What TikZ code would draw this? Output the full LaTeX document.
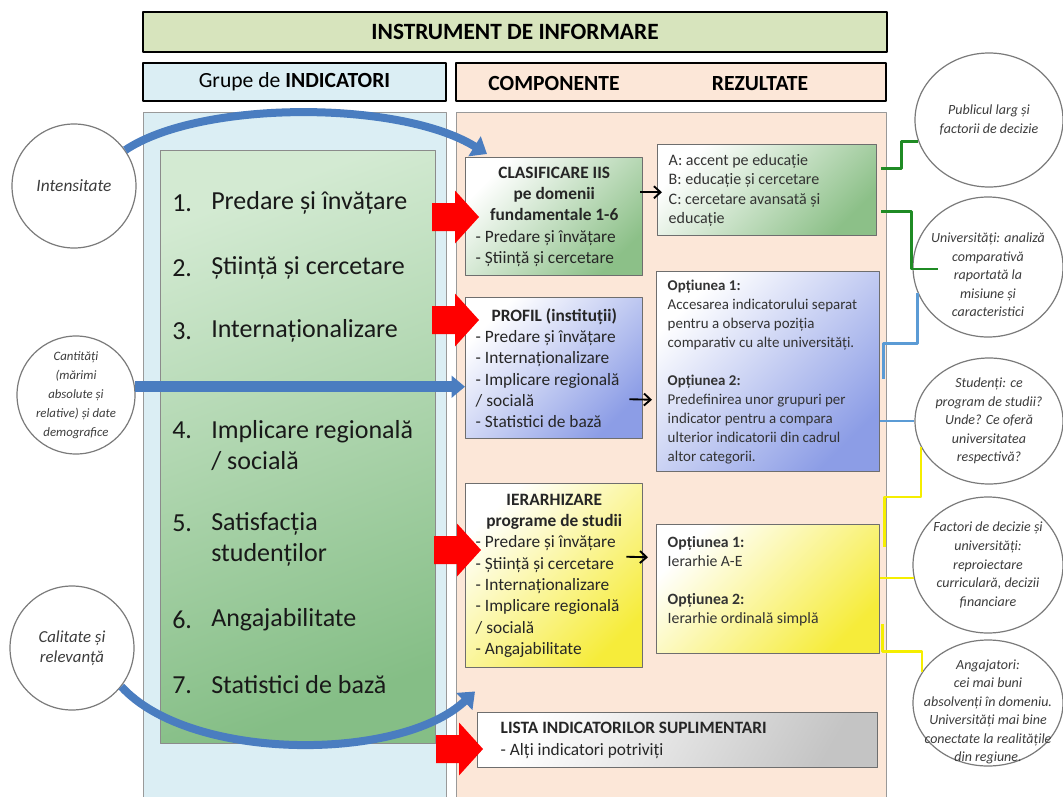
\documentclass[tikz,border=0pt]{standalone}
\usepackage{fontspec}
\setmainfont{Carlito}
\usetikzlibrary{arrows.meta,shapes.geometric,calc}

\definecolor{titlefill}{HTML}{D7E4BD}
\definecolor{leftfill}{HTML}{DBEEF4}
\definecolor{rightfill}{HTML}{FCE7D8}
\definecolor{indtop}{HTML}{D3EAD2}
\definecolor{indbot}{HTML}{85BE86}
\definecolor{greenend}{HTML}{8CC088}
\definecolor{blueend}{HTML}{8C9DE6}
\definecolor{yellowend}{HTML}{F6EC3A}
\definecolor{grayend}{HTML}{C4C4C4}
\definecolor{boxline}{HTML}{6E6E6E}
\definecolor{circline}{HTML}{7A7A7A}
\definecolor{txtgray}{HTML}{3C3C3C}
\definecolor{arrblue}{HTML}{4A7DC0}
\definecolor{redfill}{HTML}{FF0000}
\definecolor{greenline}{HTML}{1F8B24}
\definecolor{blueline}{HTML}{5B9BD5}
\definecolor{yellowline}{HTML}{F5EE00}

\newcommand{\pxl}{0.75pt}
\newcommand{\ctitle}[1]{\makebox[\linewidth]{\bfseries #1}}

\begin{document}
\begin{tikzpicture}[x=0.75pt, y=-0.75pt, line join=round,
    hdr/.style={draw=black, line width=2.2pt, inner sep=0pt},
    colbg/.style={draw=boxline!70, line width=0.8pt, anchor=north west, inner sep=0pt},
    itemnum/.style={anchor=west, inner sep=0pt, text=black!90, font=\fontsize{19.5}{23.25}\selectfont},
    itemtxt/.style={anchor=west, inner sep=0pt, align=flush left, text=black!90, font=\fontsize{19.5}{23.25}\selectfont},
    compbox/.style={draw=boxline, line width=1.1pt, anchor=north west, inner xsep=10*\pxl, inner ysep=0pt,
      text width=157*\pxl, minimum width=177*\pxl, align=flush left, text=black!85, font=\fontsize{13}{16}\selectfont},
    resbox/.style={draw=boxline, line width=1.1pt, anchor=north west, inner xsep=11*\pxl, inner ysep=0pt,
      align=flush left, text=black!80},
    circ/.style={circle, draw=circline, line width=0.9pt, fill=white, inner sep=0pt},
    audience/.style={ellipse, draw=circline, line width=0.9pt, fill=white, inner sep=0pt},
    audtxt/.style={align=flush center, inner sep=0pt, text=txtgray, font=\fontsize{10.5}{13.9}\selectfont\itshape},
    bluearr/.style={draw=arrblue, line width=6pt, -{Triangle[length=11pt,width=17pt]}},
    blackarr/.style={draw=black, line width=1.4pt, -{Straight Barb[length=5pt,width=9pt]}},
    greenln/.style={draw=greenline, line width=1.9pt},
    blueln/.style={draw=blueline, line width=1.9pt},
    yellowln/.style={draw=yellowline, line width=1.9pt},
    redarr/.pic={\fill[redfill] (0,-14) -- (23,-14) -- (23,-26.5) -- (47,0) -- (23,26.5) -- (23,14) -- (0,14) -- cycle;}]

  \useasboundingbox (0,0) rectangle (1063,796);
  \fill[white] (0,0) rectangle (1063,796);

  % headers
  \node[hdr, fill=titlefill, minimum width=744*\pxl, minimum height=40*\pxl,
    font=\fontsize{17.5}{20}\selectfont\bfseries] (title) at (515,32) {INSTRUMENT DE INFORMARE};
  \node[hdr, fill=leftfill, minimum width=303*\pxl, minimum height=38*\pxl,
    font=\fontsize{16.2}{19}\selectfont] (grphdr) at (294.5,82) {Grupe de \textbf{INDICATORI}};
  \node[hdr, fill=rightfill, minimum width=430*\pxl, minimum height=38*\pxl] (comphdr) at (671,82) {};
  \node[font=\fontsize{16.2}{19}\selectfont\bfseries, inner sep=0pt, anchor=base] (comp) at (554,90) {COMPONENTE};
  \node[font=\fontsize{16.2}{19}\selectfont\bfseries, inner sep=0pt, anchor=base] (rez) at (760,90) {REZULTATE};

  % columns
  \node[colbg, fill=leftfill, minimum width=303*\pxl, minimum height=700*\pxl] (leftcol) at (143,112) {};
  \node[colbg, fill=rightfill, minimum width=430*\pxl, minimum height=700*\pxl] (rightcol) at (456,112) {};

  % indicator groups
  \node[draw=boxline!80, line width=0.8pt, anchor=north west, inner sep=0pt,
    top color=indtop, bottom color=indbot, shading angle=20,
    minimum width=275*\pxl, minimum height=593*\pxl] (indbox) at (160,150) {};
  \node[itemnum] (n1) at (172,203) {1.};
  \node[itemtxt] (t1) at (211,203) {Predare și învățare};
  \node[itemnum] (n2) at (172,268) {2.};
  \node[itemtxt] (t2) at (211,268) {Știință și cercetare};
  \node[itemnum] (n3) at (172,331) {3.};
  \node[itemtxt] (t3) at (211,331) {Internaționalizare};
  \node[itemnum] (n4) at (172,430) {4.};
  \node[itemtxt] (t4) at (211,445.5) {Implicare regională\\/ socială};
  \node[itemnum] (n5) at (172,523) {5.};
  \node[itemtxt] (t5) at (211,539.5) {Satisfacția\\studenților};
  \node[itemnum] (n6) at (172,620) {6.};
  \node[itemtxt] (t6) at (211,620) {Angajabilitate};
  \node[itemnum] (n7) at (172,685) {7.};
  \node[itemtxt] (t7) at (211,685) {Statistici de bază};

  % components
  \node[compbox, top color=white, bottom color=greenend, shading angle=45,
    minimum height=118*\pxl] (compA) at (465,157)
    {\ctitle{CLASIFICARE IIS}\\ \ctitle{pe domenii}\\ \ctitle{fundamentale 1-6}\\
     - Predare și învățare\\ - Știință și cercetare};
  \node[compbox, top color=white, bottom color=blueend, shading angle=45,
    minimum height=141*\pxl] (compB) at (465,297)
    {\ctitle{PROFIL (instituții)}\\ - Predare și învățare\\ - Internaționalizare\\
     - Implicare regională\\ / socială\\ - Statistici de bază};
  \node[compbox, top color=white, bottom color=yellowend, shading angle=45,
    minimum height=184*\pxl] (compC) at (465,483)
    {\ctitle{IERARHIZARE}\\ \ctitle{programe de studii}\\ - Predare și învățare\\
     - Știință și cercetare\\ - Internaționalizare\\ - Implicare regională\\
     / socială\\ - Angajabilitate};
  \node[compbox, top color=white, bottom color=grayend, shading angle=60, inner xsep=23*\pxl,
    text width=354*\pxl, minimum width=400*\pxl, minimum height=55*\pxl] (lista) at (477,712)
    {\textbf{LISTA INDICATORILOR SUPLIMENTARI}\\ - Alți indicatori potriviți};

  % results
  \node[resbox, top color=white, bottom color=greenend, shading angle=45,
    text width=197*\pxl, minimum width=219*\pxl, minimum height=91*\pxl,
    font=\fontsize{12}{14.6}\selectfont] (resA) at (657,144)
    {A: accent pe educație\\ B: educație și cercetare\\ C: cercetare avansată și\\ educație};
  \node[resbox, top color=white, bottom color=blueend, shading angle=45,
    text width=201*\pxl, minimum width=223*\pxl, minimum height=200*\pxl,
    font=\fontsize{11.2}{14.25}\selectfont] (resB) at (656,271)
    {\textbf{Opțiunea 1:}\\ Accesarea indicatorului separat\\ pentru a observa poziția\\
     comparativ cu alte universități.\\[14.25pt] \textbf{Opțiunea 2:}\\
     Predefinirea unor grupuri per\\ indicator pentru a compara\\
     ulterior indicatorii din cadrul\\ altor categorii.};
  \node[resbox, top color=white, bottom color=yellowend, shading angle=45,
    text width=201*\pxl, minimum width=223*\pxl, minimum height=129*\pxl,
    font=\fontsize{11.8}{14.25}\selectfont] (resC) at (656,524)
    {\textbf{Opțiunea 1:}\\ Ierarhie A-E\\[14.25pt] \textbf{Opțiunea 2:}\\
     Ierarhie ordinală simplă\\ \mbox{}};

  \draw[blackarr] ($(compA.east |- resA.west)+(-3,2)$) -- ($(resA.west)+(5,2)$);
  \draw[blackarr] ($(compB.east)+(-14,31)$) -- ($(resB.west)+(-4,28)$);
  \draw[blackarr] ($(compC.east)+(-17,-19)$) -- ($(resC.west)+(-8,-32)$);

  % red arrows
  \pic (redA) at (432,217) {redarr};
  \pic (redB) at (432,320) {redarr};
  \pic (redC) at (434,550) {redarr};
  \pic (redD) at (436,749) {redarr};

  % sources
  \node[circ, minimum size=124*\pxl] (intens) at (74,186) {};
  \node[audtxt, font=\fontsize{13}{16}\selectfont\itshape] (intenstxt) at (intens) {Intensitate};
  \node[circ, minimum size=118*\pxl] (cantit) at (76,395) {};
  \node[audtxt, font=\fontsize{9.6}{14.25}\selectfont\itshape] (cantittxt) at (cantit)
    {Cantități\\(mărimi\\absolute și\\relative) și date\\demografice};
  \node[circ, minimum size=124*\pxl] (calit) at (72,648) {};
  \node[audtxt, font=\fontsize{12.6}{15}\selectfont\itshape] (calittxt) at (calit)
    {Calitate și\\relevanță};

  \draw[bluearr] (intens.35) .. controls (200,100) and (400,100) .. ($(compA.north west)+(22,-3)$);
  \draw[bluearr, line width=8pt, -{Triangle[length=10pt,width=16pt]}] (cantit.8) -- (cantit.8 -| compB.west);
  \draw[bluearr] (calit.-38) .. controls (190,762) and (400,762) .. ($(compC.south west)+(10,23)$);

  % audiences
  \node[audience, minimum width=148*\pxl, minimum height=134*\pxl] (pub) at (989,120) {};
  \node[audtxt] (pubtxt) at (pub) {Publicul larg și\\factorii de decizie};
  \node[audience, minimum width=150*\pxl, minimum height=140*\pxl] (univ) at (988,267) {};
  \node[audtxt] (univtxt) at ($(univ)+(0,8)$)
    {Universități: analiză\\comparativă\\raportată la\\misiune și\\caracteristici};
  \node[audience, minimum width=148*\pxl, minimum height=126*\pxl] (stud) at (989,421) {};
  \node[audtxt] (studtxt) at (stud)
    {Studenți: ce\\program de studii?\\Unde? Ce oferă\\universitatea\\respectivă?};
  \node[audience, minimum width=150*\pxl, minimum height=136*\pxl] (fact) at (988,565) {};
  \node[audtxt] (facttxt) at (fact)
    {Factori de decizie și\\universități:\\reproiectare\\curriculară, decizii\\financiare};
  \node[audience, minimum width=150*\pxl, minimum height=126*\pxl] (ang) at (988,703) {};
  \node[audtxt] (angtxt) at ($(ang)+(0,9)$)
    {Angajatori:\\cei mai buni\\absolvenți în domeniu.\\Universități mai bine\\conectate la realitățile\\din regiune.};

  % links to audiences
  \draw[greenln] (resA.east) ++(4,-22) -- ++(20,0) |- (pub.197);
  \draw[greenln] (resA.east) ++(4,21) -- ++(30,0) |- ($(univ.center)+(-50,2)$);
  \draw[blueln] (resB.east) ++(3,7) -- ++(0,-35) -| (univ.200);
  \draw[blueln] (resB.east |- stud.west) -- (stud.west);
  \draw[yellowln] (stud.201) -- ++(0,50) -| ($(resC.north east)+(4,23)$);
  \draw[yellowln] (resC.east |- fact.190) -- (fact.190);
  \draw[yellowln] (resC.east) ++(2,35) -- ++(0,27) -| (ang.155);
\end{tikzpicture}
\end{document}
